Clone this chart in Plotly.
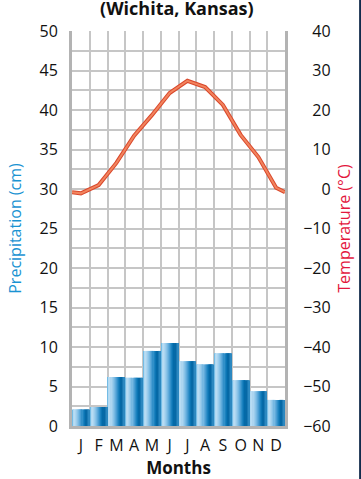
import plotly.graph_objects as go

months = ["J", "F", "M", "A", "M", "J", "J", "A", "S", "O", "N", "D"]
precip_cm = [2.1, 2.4, 6.2, 6.1, 9.5, 10.5, 8.2, 7.8, 9.2, 5.8, 4.4, 3.3]
temp_c = [-1.1, 1.0, 6.6, 13.5, 18.7, 24.3, 27.4, 25.8, 21.3, 13.7, 8.1, 0.3]
# the drawn curve runs on to both plot edges; values there
temp_edge_start = -0.8
temp_edge_end = -0.8
precip_ticks = [0, 5, 10, 15, 20, 25, 30, 35, 40, 45, 50]
temp_ticks = [-60, -50, -40, -30, -20, -10, 0, 10, 20, 30, 40]

xpos = [i + 0.5 for i in range(len(months))]
x_line = [0] + xpos + [len(months)]
y_line = [temp_edge_start] + temp_c + [temp_edge_end]
FONT = "Open Sans"

# cylinder-like shading colors for bars (left -> right)
shade = ["#74bce5", "#b1d9f2", "#b8dcf3", "#acd5f0", "#9ccdec", "#8ac3e8",
         "#76b8e2", "#60abdb", "#4a9dd3", "#3290c9", "#1c82bf", "#0c75b4",
         "#046aa8", "#0768a5", "#1878b3", "#2c88c0"]

fig = go.Figure()

W = 0.97
n = len(shade)
sw = W / n
for i, c in enumerate(shade):
    wid = sw * (1.6 if i < n - 1 else 1.0)
    fig.add_trace(go.Bar(
        x=xpos, y=precip_cm, width=wid, offset=-W / 2 + i * sw,
        marker=dict(color=c, line=dict(width=0)),
        showlegend=False, hoverinfo="skip"))

fig.add_trace(go.Scatter(x=x_line, y=y_line, yaxis="y2", mode="lines",
                         line=dict(color="#d9482c", width=4),
                         showlegend=False))
fig.add_trace(go.Scatter(x=x_line, y=y_line, yaxis="y2", mode="lines",
                         line=dict(color="#f2845e", width=2),
                         showlegend=False))

fs = "\u2007"
def pad(v):
    s = str(v).replace("-", "\u2212")
    return fs * (3 - len(s)) + s

fig.update_layout(
    width=361, height=479,
    margin=dict(l=72, r=76, t=31, b=53, autoexpand=False),
    paper_bgcolor="white", plot_bgcolor="white",
    barmode="overlay",
    font=dict(family=FONT, size=16, color="#111111"),
    title=dict(text="<b>(Wichita, Kansas)</b>", x=0.49, xanchor="center",
               y=0.995, yref="container", yanchor="top",
               pad=dict(t=0, b=0),
               font=dict(family=FONT, size=18, color="#111111")),
    xaxis=dict(range=[0, 12], tickvals=xpos, ticktext=months,
               automargin=False,
               showgrid=False, zeroline=False,
               showline=True, linecolor="#b3b3b3", linewidth=3,
               ticks="outside", ticklen=3, tickcolor="rgba(0,0,0,0)",
               tickfont=dict(size=16),
               minor=dict(tickvals=list(range(13)), showgrid=True,
                          gridcolor="#c6c6c6", gridwidth=1.5),
               title=dict(text="<b>Months</b>", standoff=2,
                          font=dict(size=17))),
    yaxis=dict(range=[0, 50], tickvals=precip_ticks,
               automargin=False,
               showgrid=True, gridcolor="#c6c6c6", gridwidth=1.5,
               zeroline=False,
               showline=True, linecolor="#b3b3b3", linewidth=3,
               ticks="outside", ticklen=8, tickcolor="rgba(0,0,0,0)",
               minor=dict(dtick=2.5, showgrid=True,
                          gridcolor="#c6c6c6", gridwidth=1.5),
               title=dict(text="Precipitation (cm)", standoff=14,
                          font=dict(color="#1a93d2", size=16))),
    yaxis2=dict(range=[-60, 40], overlaying="y", side="right",
                automargin=False,
                tickvals=temp_ticks, ticktext=[pad(v) for v in temp_ticks],
                showgrid=False, zeroline=False,
                showline=True, linecolor="#b3b3b3", linewidth=3,
                ticks="outside", ticklen=12, tickcolor="rgba(0,0,0,0)",
                title=dict(text="Temperature (°C)", standoff=10,
                           font=dict(color="#e3173e", size=16))),
    shapes=[dict(type="line", xref="paper", yref="paper",
                 x0=1.355, x1=1.355, y0=-0.2, y1=1.1,
                 line=dict(color="#132b4c", width=3))],
)

fig.write_html("out.html",
               config={"displayModeBar": False},
               post_script="document.body.style.margin='0';"
                           "document.body.style.overflow='hidden';")
